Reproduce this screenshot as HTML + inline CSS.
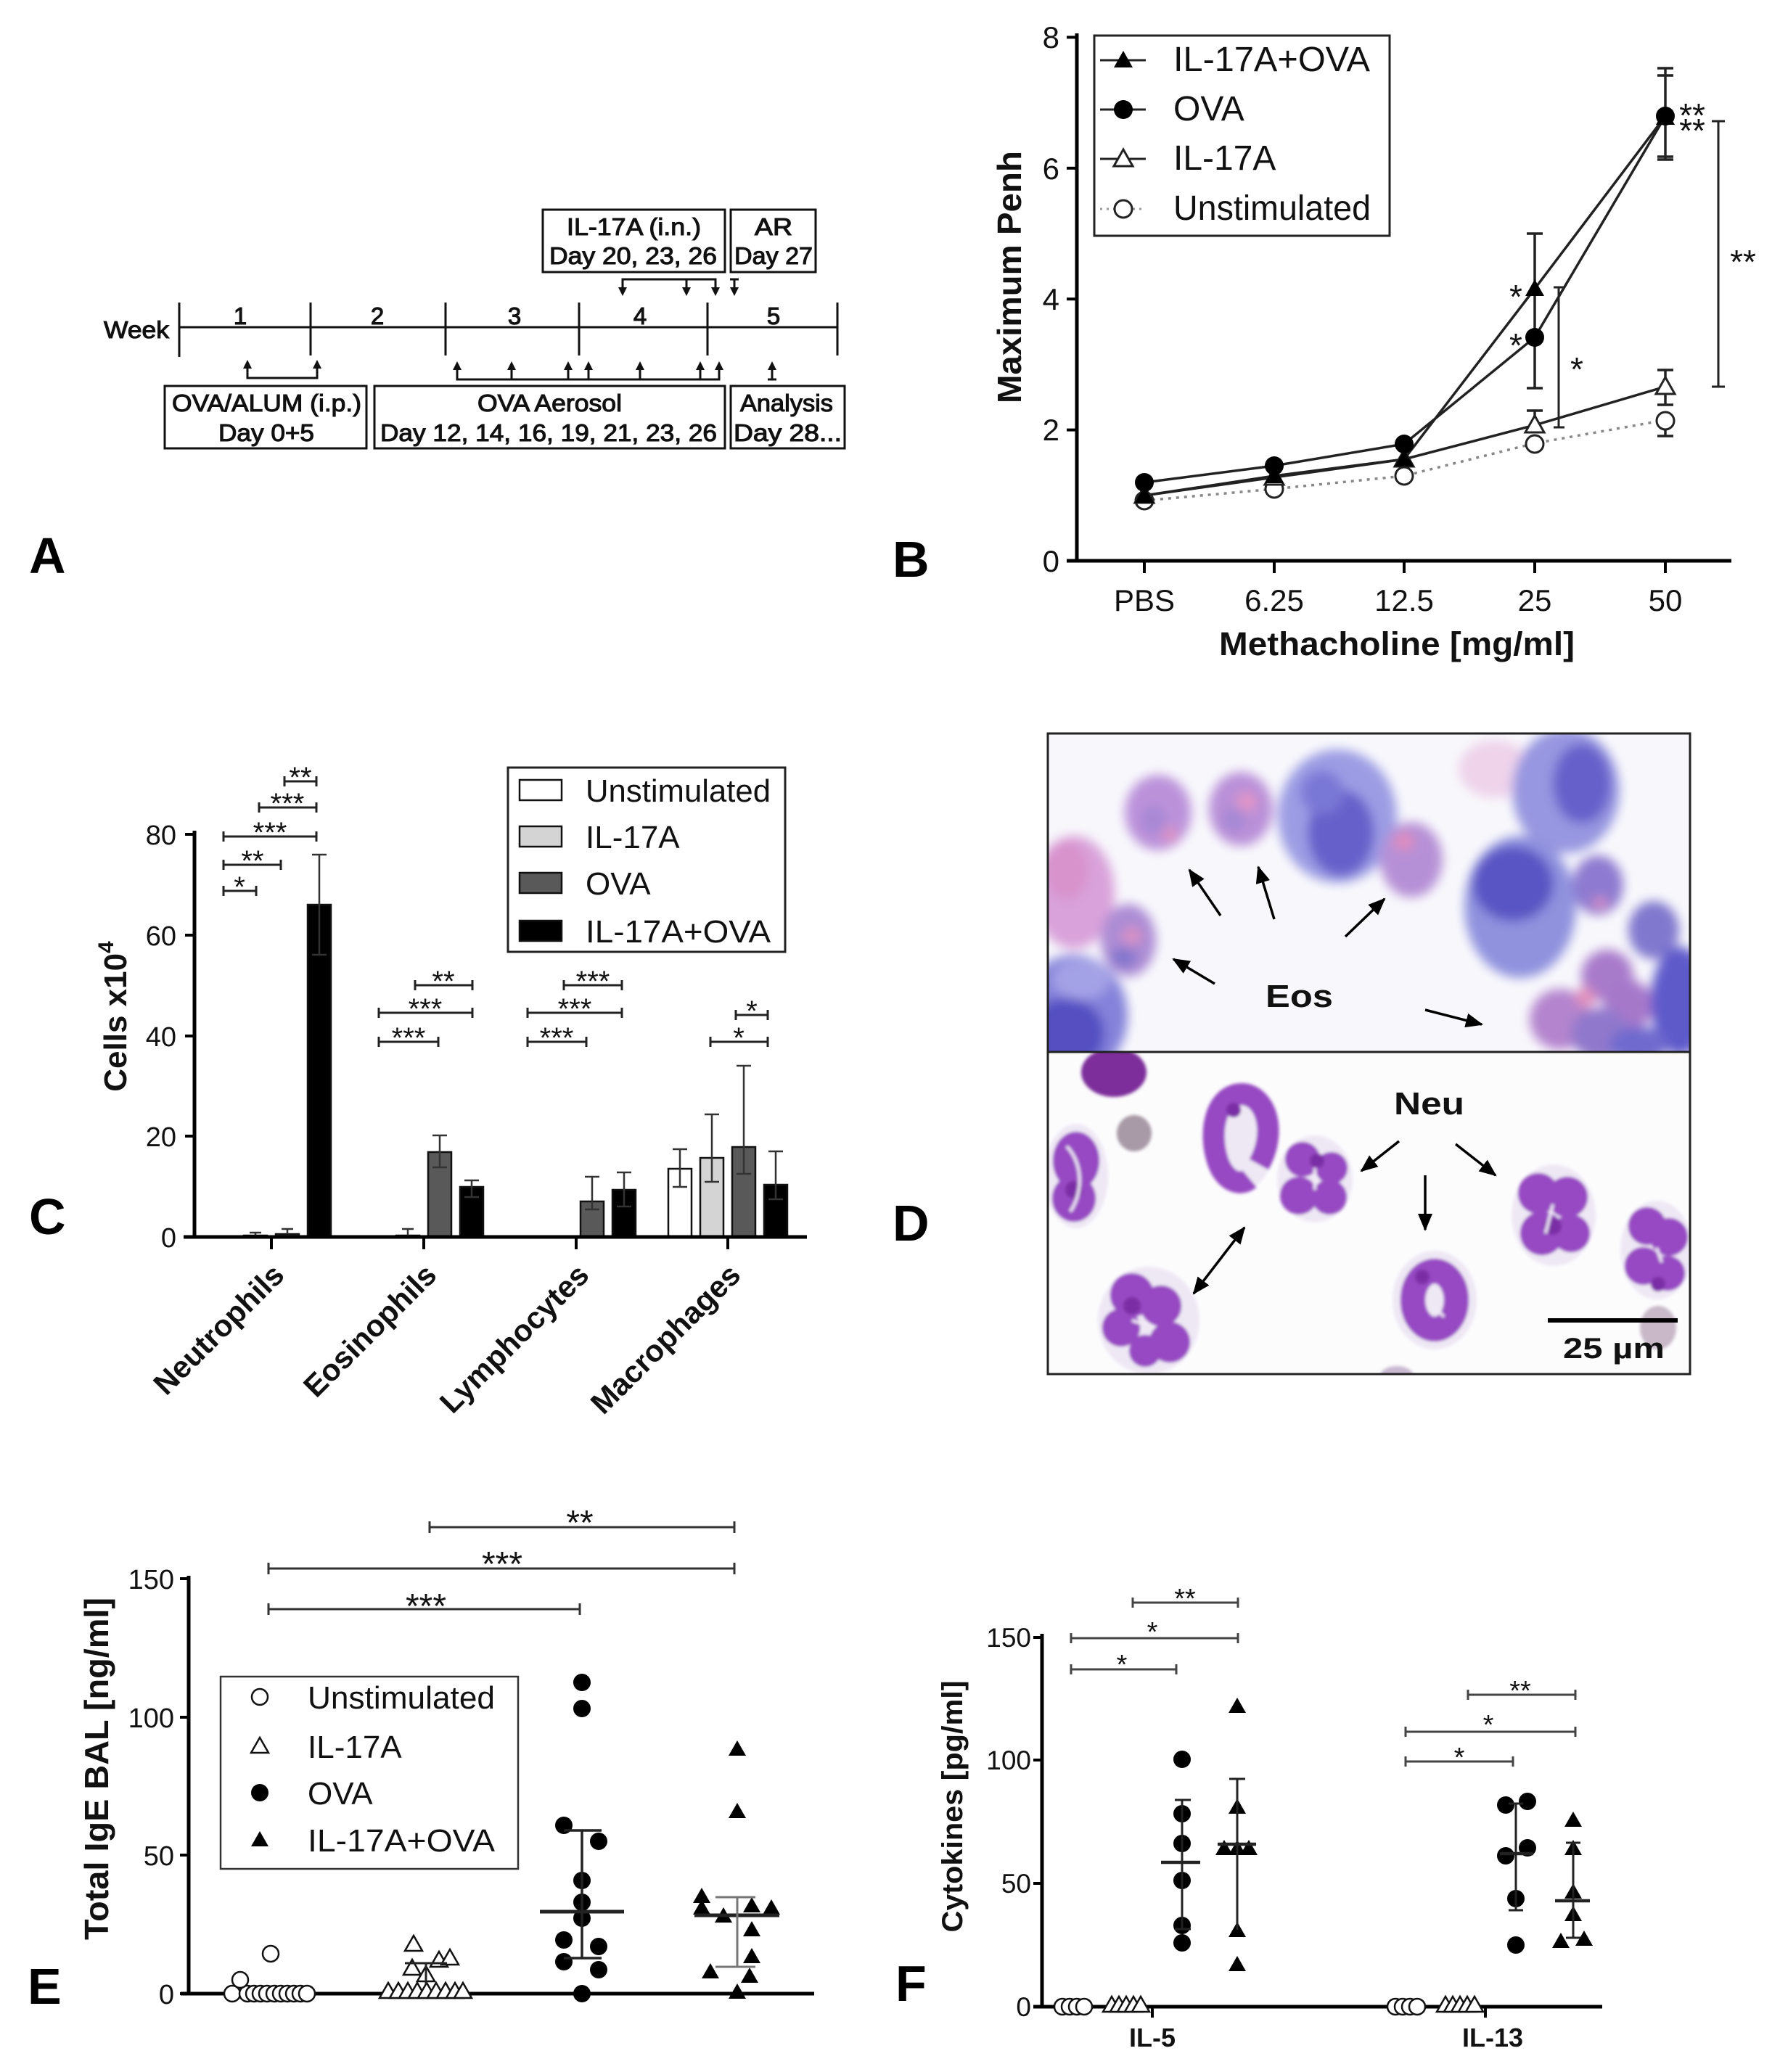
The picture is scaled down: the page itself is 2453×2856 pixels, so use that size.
<!DOCTYPE html>
<html>
<head>
<meta charset="utf-8">
<style>
html,body{margin:0;padding:0;background:#fff;}
svg{display:block;}
text{font-family:"Liberation Sans",Arial,sans-serif;fill:#111;}
.a{font-size:33px;stroke:#111;stroke-width:1.1px;}
.lab{font-size:70px;font-weight:bold;fill:#000;}
.b{font-weight:bold;}
</style>
</head>
<body>
<svg width="2453" height="2856" viewBox="0 0 2453 2856" xmlns="http://www.w3.org/2000/svg">
<defs>
<path id="tri" d="M0,-13 L13,10 L-13,10 Z"/>
<path id="trs" d="M0,-12 L12,9 L-12,9 Z"/>
<filter id="blr" filterUnits="userSpaceOnUse" x="1400" y="980" width="980" height="500"><feGaussianBlur stdDeviation="7.5"/></filter>
<filter id="blr2" filterUnits="userSpaceOnUse" x="1400" y="1420" width="980" height="500"><feGaussianBlur stdDeviation="2.2"/></filter>
<clipPath id="ctop"><rect x="1444" y="1011" width="885" height="439"/></clipPath>
<clipPath id="cbot"><rect x="1444" y="1450" width="885" height="444"/></clipPath>
<marker id="ah" markerUnits="userSpaceOnUse" markerWidth="24" markerHeight="20" refX="22" refY="10" orient="auto-start-reverse"><path d="M0,0 L24,10 L0,20 Z" fill="#000"/></marker>
</defs>
<rect x="0" y="0" width="2453" height="2856" fill="#fff"/>

<!-- ================= PANEL A ================= -->
<g stroke="#111" stroke-width="3" fill="none">
  <line x1="247" y1="451" x2="1154" y2="451"/>
  <line x1="247" y1="417" x2="247" y2="492"/>
  <line x1="428" y1="417" x2="428" y2="490"/>
  <line x1="614" y1="417" x2="614" y2="490"/>
  <line x1="798" y1="417" x2="798" y2="490"/>
  <line x1="975" y1="417" x2="975" y2="490"/>
  <line x1="1154" y1="417" x2="1154" y2="490"/>
  <rect x="748" y="289" width="251" height="86"/>
  <rect x="1007" y="289" width="117" height="86"/>
  <rect x="227" y="532" width="278" height="86"/>
  <rect x="516" y="532" width="483" height="86"/>
  <rect x="1007" y="532" width="157" height="86"/>
  <polyline points="858,398 858,385 986,385 986,398"/>
  <line x1="946" y1="385" x2="946" y2="398"/>
  <line x1="1006" y1="385" x2="1018" y2="385"/>
  <line x1="1012" y1="385" x2="1012" y2="398"/>
  <polyline points="341,506 341,521 437,521 437,506"/>
  <polyline points="630,508 630,523 991,523 991,508"/>
  <line x1="705" y1="523" x2="705" y2="508"/>
  <line x1="783" y1="523" x2="783" y2="508"/>
  <line x1="811" y1="523" x2="811" y2="508"/>
  <line x1="882" y1="523" x2="882" y2="508"/>
  <line x1="965" y1="523" x2="965" y2="508"/>
  <line x1="1064" y1="523" x2="1064" y2="508"/>
  <line x1="1058" y1="523" x2="1070" y2="523"/>
</g>
<g fill="#111">
  <path d="M852,396 L864,396 L858,408 Z"/>
  <path d="M940,396 L952,396 L946,408 Z"/>
  <path d="M980,396 L992,396 L986,408 Z"/>
  <path d="M1006,396 L1018,396 L1012,408 Z"/>
  <path d="M335,508 L347,508 L341,496 Z"/>
  <path d="M431,508 L443,508 L437,496 Z"/>
  <path d="M624,510 L636,510 L630,498 Z"/>
  <path d="M699,510 L711,510 L705,498 Z"/>
  <path d="M777,510 L789,510 L783,498 Z"/>
  <path d="M805,510 L817,510 L811,498 Z"/>
  <path d="M876,510 L888,510 L882,498 Z"/>
  <path d="M959,510 L971,510 L965,498 Z"/>
  <path d="M985,510 L997,510 L991,498 Z"/>
  <path d="M1058,510 L1070,510 L1064,498 Z"/>
</g>
<text class="a" x="143" y="466" textLength="90" lengthAdjust="spacingAndGlyphs">Week</text>
<text class="a" x="331" y="447" text-anchor="middle">1</text>
<text class="a" x="520" y="447" text-anchor="middle">2</text>
<text class="a" x="709" y="447" text-anchor="middle">3</text>
<text class="a" x="882" y="447" text-anchor="middle">4</text>
<text class="a" x="1066" y="447" text-anchor="middle">5</text>
<text class="a" x="781" y="324" textLength="185" lengthAdjust="spacingAndGlyphs">IL-17A (i.n.)</text>
<text class="a" x="757" y="364" textLength="231" lengthAdjust="spacingAndGlyphs">Day 20, 23, 26</text>
<text class="a" x="1040" y="324" textLength="52" lengthAdjust="spacingAndGlyphs">AR</text>
<text class="a" x="1012" y="364" textLength="108" lengthAdjust="spacingAndGlyphs">Day 27</text>
<text class="a" x="237" y="567" textLength="261" lengthAdjust="spacingAndGlyphs">OVA/ALUM (i.p.)</text>
<text class="a" x="301" y="608" textLength="132" lengthAdjust="spacingAndGlyphs">Day 0+5</text>
<text class="a" x="658" y="567" textLength="199" lengthAdjust="spacingAndGlyphs">OVA Aerosol</text>
<text class="a" x="524" y="608" textLength="464" lengthAdjust="spacingAndGlyphs">Day 12, 14, 16, 19, 21, 23, 26</text>
<text class="a" x="1020" y="567" textLength="128" lengthAdjust="spacingAndGlyphs">Analysis</text>
<text class="a" x="1011" y="608" textLength="149" lengthAdjust="spacingAndGlyphs">Day 28...</text>
<text class="lab" x="40" y="790">A</text>

<!-- ================= PANEL B ================= -->
<text class="lab" x="1230" y="795">B</text>
<g stroke="#000" stroke-width="5" fill="none">
  <line x1="1484" y1="46" x2="1484" y2="775"/>
  <line x1="1470" y1="773" x2="2386" y2="773"/>
</g>
<g stroke="#000" stroke-width="4">
  <line x1="1470" y1="773" x2="1484" y2="773"/>
  <line x1="1470" y1="592.6" x2="1484" y2="592.6"/>
  <line x1="1470" y1="412.2" x2="1484" y2="412.2"/>
  <line x1="1470" y1="231.8" x2="1484" y2="231.8"/>
  <line x1="1470" y1="51.4" x2="1484" y2="51.4"/>
  <line x1="1577" y1="773" x2="1577" y2="790"/>
  <line x1="1756" y1="773" x2="1756" y2="790"/>
  <line x1="1935" y1="773" x2="1935" y2="790"/>
  <line x1="2115" y1="773" x2="2115" y2="790"/>
  <line x1="2295" y1="773" x2="2295" y2="790"/>
</g>
<g font-size="42" text-anchor="end">
  <text x="1460" y="788">0</text>
  <text x="1460" y="607">2</text>
  <text x="1460" y="427">4</text>
  <text x="1460" y="247">6</text>
  <text x="1460" y="66">8</text>
</g>
<g font-size="42" text-anchor="middle">
  <text x="1577" y="842">PBS</text>
  <text x="1756" y="842">6.25</text>
  <text x="1935" y="842">12.5</text>
  <text x="2115" y="842">25</text>
  <text x="2295" y="842">50</text>
</g>
<text class="b" x="1925" y="903" font-size="45" text-anchor="middle" textLength="490" lengthAdjust="spacingAndGlyphs">Methacholine [mg/ml]</text>
<text class="b" font-size="46" text-anchor="middle" transform="translate(1407,382) rotate(-90)" textLength="348" lengthAdjust="spacingAndGlyphs">Maximum Penh</text>
<polyline points="1577,690 1756,674 1935,656 2115,611 2295,579" fill="none" stroke="#888" stroke-width="3.5" stroke-dasharray="4,7"/>
<polyline points="1577,683 1756,658 1935,633 2115,586 2295,533" fill="none" stroke="#222" stroke-width="3.5"/>
<polyline points="1577,665 1756,642 1935,612 2115,465 2295,160" fill="none" stroke="#222" stroke-width="3.5"/>
<polyline points="1577,683 1756,656 1935,633 2115,398 2295,160" fill="none" stroke="#222" stroke-width="3.5"/>
<g stroke="#222" stroke-width="3.5" fill="none">
  <line x1="2115" y1="322" x2="2115" y2="535"/>
  <line x1="2104" y1="322" x2="2126" y2="322"/>
  <line x1="2104" y1="535" x2="2126" y2="535"/>
  <line x1="2295" y1="94" x2="2295" y2="220"/>
  <line x1="2284" y1="94" x2="2306" y2="94"/>
  <line x1="2284" y1="104" x2="2306" y2="104"/>
  <line x1="2284" y1="216" x2="2306" y2="216"/>
  <line x1="2284" y1="220" x2="2306" y2="220"/>
  <line x1="2115" y1="566" x2="2115" y2="586"/>
  <line x1="2104" y1="566" x2="2126" y2="566"/>
  <line x1="2295" y1="510" x2="2295" y2="558"/>
  <line x1="2284" y1="510" x2="2306" y2="510"/>
  <line x1="2284" y1="558" x2="2306" y2="558"/>
  <line x1="2295" y1="580" x2="2295" y2="601"/>
  <line x1="2284" y1="601" x2="2306" y2="601"/>
</g>
<g fill="#fff" stroke="#222" stroke-width="3">
  <circle cx="1577" cy="690" r="12"/><circle cx="1756" cy="674" r="12"/><circle cx="1935" cy="656" r="12"/><circle cx="2115" cy="612" r="12"/><circle cx="2295" cy="580" r="12"/>
  <use href="#tri" x="1577" y="683"/><use href="#tri" x="1756" y="658"/><use href="#tri" x="1935" y="633"/><use href="#tri" x="2115" y="586"/><use href="#tri" x="2295" y="533"/>
</g>
<g fill="#000">
  <circle cx="1577" cy="665" r="13"/><circle cx="1756" cy="642" r="13"/><circle cx="1935" cy="612" r="13"/><circle cx="2115" cy="465" r="13"/><circle cx="2295" cy="160" r="13"/>
  <use href="#tri" x="1577" y="683"/><use href="#tri" x="1756" y="656"/><use href="#tri" x="1935" y="633"/><use href="#tri" x="2115" y="398"/><use href="#tri" x="2295" y="162"/>
</g>
<g stroke="#222" stroke-width="3" fill="none">
  <line x1="2148" y1="396" x2="2148" y2="589"/>
  <line x1="2141" y1="396" x2="2156" y2="396"/>
  <line x1="2141" y1="589" x2="2156" y2="589"/>
  <line x1="2368" y1="167" x2="2368" y2="533"/>
  <line x1="2359" y1="167" x2="2377" y2="167"/>
  <line x1="2359" y1="533" x2="2377" y2="533"/>
</g>
<g font-size="46" text-anchor="middle">
  <text x="2089" y="425">*</text>
  <text x="2089" y="492">*</text>
  <text x="2173" y="525">*</text>
  <text x="2332" y="175">**</text>
  <text x="2332" y="196">**</text>
  <text x="2402" y="377">**</text>
</g>
<rect x="1508" y="49" width="407" height="276" fill="#fff" stroke="#222" stroke-width="3"/>
<g stroke="#222" stroke-width="3">
  <line x1="1516" y1="83" x2="1579" y2="83"/>
  <line x1="1516" y1="151" x2="1579" y2="151"/>
  <line x1="1516" y1="219" x2="1579" y2="219"/>
  <line x1="1516" y1="288" x2="1579" y2="288" stroke="#999" stroke-dasharray="3,6"/>
</g>
<use href="#tri" x="1548" y="83" fill="#000"/>
<circle cx="1548" cy="151" r="13" fill="#000"/>
<use href="#tri" x="1548" y="219" fill="#fff" stroke="#222" stroke-width="3"/>
<circle cx="1548" cy="288" r="12" fill="#fff" stroke="#222" stroke-width="3"/>
<g font-size="48">
  <text x="1617" y="98" textLength="271" lengthAdjust="spacingAndGlyphs">IL-17A+OVA</text>
  <text x="1617" y="166">OVA</text>
  <text x="1617" y="234">IL-17A</text>
  <text x="1617" y="303" textLength="272" lengthAdjust="spacingAndGlyphs">Unstimulated</text>
</g>

<!-- ================= PANEL C ================= -->
<text class="lab" x="40" y="1701">C</text>
<g stroke="#111" stroke-width="2.5">
  <rect x="292" y="1704" width="32" height="1" fill="#fff"/>
  <rect x="336" y="1703" width="32" height="2" fill="#d4d4d4"/>
  <rect x="380" y="1701" width="32" height="4" fill="#595959"/>
  <rect x="424" y="1247" width="32" height="458" fill="#000"/>
  <rect x="502" y="1704" width="32" height="1" fill="#fff"/>
  <rect x="546" y="1703" width="32" height="2" fill="#d4d4d4"/>
  <rect x="590" y="1588" width="32" height="117" fill="#595959"/>
  <rect x="634" y="1636" width="32" height="69" fill="#000"/>
  <rect x="712" y="1704" width="32" height="1" fill="#fff"/>
  <rect x="756" y="1704" width="32" height="1" fill="#d4d4d4"/>
  <rect x="800" y="1656" width="32" height="49" fill="#595959"/>
  <rect x="844" y="1640" width="32" height="65" fill="#000"/>
  <rect x="921" y="1611" width="32" height="94" fill="#fff"/>
  <rect x="965" y="1596" width="32" height="109" fill="#d4d4d4"/>
  <rect x="1009" y="1581" width="32" height="124" fill="#595959"/>
  <rect x="1053" y="1633" width="32" height="72" fill="#000"/>
</g>
<g stroke="#333" stroke-width="2.5" fill="none">
  <line x1="352" y1="1699" x2="352" y2="1703"/><line x1="344" y1="1699" x2="360" y2="1699"/>
  <line x1="396" y1="1694" x2="396" y2="1701"/><line x1="388" y1="1694" x2="404" y2="1694"/>
  <line x1="440" y1="1178" x2="440" y2="1316"/><line x1="430" y1="1178" x2="450" y2="1178"/><line x1="430" y1="1316" x2="450" y2="1316"/>
  <line x1="562" y1="1694" x2="562" y2="1703"/><line x1="554" y1="1694" x2="570" y2="1694"/>
  <line x1="606" y1="1565" x2="606" y2="1609"/><line x1="596" y1="1565" x2="616" y2="1565"/><line x1="596" y1="1609" x2="616" y2="1609"/>
  <line x1="650" y1="1627" x2="650" y2="1650"/><line x1="640" y1="1627" x2="660" y2="1627"/><line x1="640" y1="1650" x2="660" y2="1650"/>
  <line x1="816" y1="1622" x2="816" y2="1667"/><line x1="806" y1="1622" x2="826" y2="1622"/><line x1="806" y1="1667" x2="826" y2="1667"/>
  <line x1="860" y1="1616" x2="860" y2="1663"/><line x1="850" y1="1616" x2="870" y2="1616"/><line x1="850" y1="1663" x2="870" y2="1663"/>
  <line x1="937" y1="1584" x2="937" y2="1636"/><line x1="927" y1="1584" x2="947" y2="1584"/><line x1="927" y1="1636" x2="947" y2="1636"/>
  <line x1="981" y1="1536" x2="981" y2="1629"/><line x1="971" y1="1536" x2="991" y2="1536"/><line x1="971" y1="1629" x2="991" y2="1629"/>
  <line x1="1025" y1="1469" x2="1025" y2="1618"/><line x1="1015" y1="1469" x2="1035" y2="1469"/><line x1="1015" y1="1618" x2="1035" y2="1618"/>
  <line x1="1069" y1="1587" x2="1069" y2="1653"/><line x1="1059" y1="1587" x2="1079" y2="1587"/><line x1="1059" y1="1653" x2="1079" y2="1653"/>
</g>
<g stroke="#000" stroke-width="5" fill="none">
  <line x1="268" y1="1145" x2="268" y2="1707"/>
  <line x1="253" y1="1705" x2="1112" y2="1705"/>
</g>
<g stroke="#000" stroke-width="4">
  <line x1="255" y1="1705" x2="268" y2="1705"/>
  <line x1="255" y1="1566" x2="268" y2="1566"/>
  <line x1="255" y1="1428" x2="268" y2="1428"/>
  <line x1="255" y1="1289" x2="268" y2="1289"/>
  <line x1="255" y1="1150" x2="268" y2="1150"/>
  <line x1="374" y1="1705" x2="374" y2="1722"/>
  <line x1="584" y1="1705" x2="584" y2="1722"/>
  <line x1="794" y1="1705" x2="794" y2="1722"/>
  <line x1="1003" y1="1705" x2="1003" y2="1722"/>
</g>
<g font-size="38" text-anchor="end">
  <text x="243" y="1719">0</text>
  <text x="243" y="1580">20</text>
  <text x="243" y="1442">40</text>
  <text x="243" y="1303">60</text>
  <text x="243" y="1164">80</text>
</g>
<text class="b" font-size="44" text-anchor="middle" transform="translate(174,1401) rotate(-90)">Cells x10<tspan font-size="30" dy="-18">4</tspan></text>
<g class="b" font-size="42" text-anchor="end">
  <text transform="translate(394,1760) rotate(-45)">Neutrophils</text>
  <text transform="translate(604,1760) rotate(-45)">Eosinophils</text>
  <text transform="translate(814,1760) rotate(-45)">Lymphocytes</text>
  <text transform="translate(1023,1760) rotate(-45)">Macrophages</text>
</g>
<g stroke="#222" stroke-width="3" fill="none">
  <line x1="308" y1="1228" x2="353" y2="1228"/><line x1="308" y1="1221" x2="308" y2="1235"/><line x1="353" y1="1221" x2="353" y2="1235"/>
  <line x1="308" y1="1192" x2="387" y2="1192"/><line x1="308" y1="1185" x2="308" y2="1199"/><line x1="387" y1="1185" x2="387" y2="1199"/>
  <line x1="308" y1="1153" x2="436" y2="1153"/><line x1="308" y1="1146" x2="308" y2="1160"/><line x1="436" y1="1146" x2="436" y2="1160"/>
  <line x1="357" y1="1113" x2="436" y2="1113"/><line x1="357" y1="1106" x2="357" y2="1120"/><line x1="436" y1="1106" x2="436" y2="1120"/>
  <line x1="392" y1="1077" x2="436" y2="1077"/><line x1="392" y1="1070" x2="392" y2="1084"/><line x1="436" y1="1070" x2="436" y2="1084"/>
  <line x1="572" y1="1358" x2="651" y2="1358"/><line x1="572" y1="1351" x2="572" y2="1365"/><line x1="651" y1="1351" x2="651" y2="1365"/>
  <line x1="522" y1="1396" x2="651" y2="1396"/><line x1="522" y1="1389" x2="522" y2="1403"/><line x1="651" y1="1389" x2="651" y2="1403"/>
  <line x1="522" y1="1436" x2="604" y2="1436"/><line x1="522" y1="1429" x2="522" y2="1443"/><line x1="604" y1="1429" x2="604" y2="1443"/>
  <line x1="777" y1="1358" x2="857" y2="1358"/><line x1="777" y1="1351" x2="777" y2="1365"/><line x1="857" y1="1351" x2="857" y2="1365"/>
  <line x1="727" y1="1396" x2="857" y2="1396"/><line x1="727" y1="1389" x2="727" y2="1403"/><line x1="857" y1="1389" x2="857" y2="1403"/>
  <line x1="727" y1="1436" x2="808" y2="1436"/><line x1="727" y1="1429" x2="727" y2="1443"/><line x1="808" y1="1429" x2="808" y2="1443"/>
  <line x1="1014" y1="1399" x2="1058" y2="1399"/><line x1="1014" y1="1392" x2="1014" y2="1406"/><line x1="1058" y1="1392" x2="1058" y2="1406"/>
  <line x1="979" y1="1436" x2="1058" y2="1436"/><line x1="979" y1="1429" x2="979" y2="1443"/><line x1="1058" y1="1429" x2="1058" y2="1443"/>
</g>
<g font-size="40" text-anchor="middle">
  <text x="330" y="1236">*</text>
  <text x="348" y="1200">**</text>
  <text x="372" y="1161">***</text>
  <text x="396" y="1121">***</text>
  <text x="414" y="1085">**</text>
  <text x="611" y="1366">**</text>
  <text x="586" y="1404">***</text>
  <text x="563" y="1444">***</text>
  <text x="817" y="1366">***</text>
  <text x="792" y="1404">***</text>
  <text x="767" y="1444">***</text>
  <text x="1036" y="1407">*</text>
  <text x="1018" y="1444">*</text>
</g>
<rect x="700" y="1058" width="382" height="254" fill="#fff" stroke="#222" stroke-width="3"/>
<g stroke="#111" stroke-width="2.5">
  <rect x="716" y="1075" width="58" height="28" fill="#fff"/>
  <rect x="716" y="1139" width="58" height="28" fill="#d4d4d4"/>
  <rect x="716" y="1203" width="58" height="28" fill="#595959"/>
  <rect x="716" y="1269" width="58" height="28" fill="#000"/>
</g>
<g font-size="44">
  <text x="807" y="1105" textLength="255" lengthAdjust="spacingAndGlyphs">Unstimulated</text>
  <text x="807" y="1169">IL-17A</text>
  <text x="807" y="1233">OVA</text>
  <text x="807" y="1299" textLength="255" lengthAdjust="spacingAndGlyphs">IL-17A+OVA</text>
</g>

<!-- ================= PANEL D ================= -->
<text class="lab" x="1230" y="1710">D</text>
<g clip-path="url(#ctop)">
  <rect x="1444" y="1011" width="885" height="439" fill="#f8f8fc"/>
  <g filter="url(#blr)">
    <ellipse cx="2060" cy="1060" rx="50" ry="40" fill="#eed3ea"/>
    <ellipse cx="1480" cy="1230" rx="56" ry="78" fill="#d9a2da"/>
    <ellipse cx="1470" cy="1200" rx="30" ry="40" fill="#d892cc"/>
    <ellipse cx="1596" cy="1120" rx="46" ry="52" fill="#bb92da"/>
    <ellipse cx="1590" cy="1130" rx="18" ry="20" fill="#a888d4"/>
    <ellipse cx="1612" cy="1150" rx="10" ry="10" fill="#e092c0"/>
    <ellipse cx="1710" cy="1115" rx="44" ry="51" fill="#b990d8"/>
    <ellipse cx="1718" cy="1105" rx="14" ry="14" fill="#e094c6"/>
    <ellipse cx="1700" cy="1130" rx="16" ry="16" fill="#a488d4"/>
    <ellipse cx="1843" cy="1125" rx="82" ry="92" fill="#9c9ce4"/>
    <ellipse cx="1848" cy="1148" rx="46" ry="60" fill="#6660ca"/>
    <ellipse cx="1822" cy="1092" rx="30" ry="30" fill="#7a78d6"/>
    <ellipse cx="1945" cy="1185" rx="43" ry="52" fill="#b690d6"/>
    <ellipse cx="1935" cy="1160" rx="14" ry="12" fill="#e08cbc"/>
    <ellipse cx="1555" cy="1296" rx="38" ry="50" fill="#ac8cd4"/>
    <ellipse cx="1560" cy="1290" rx="14" ry="12" fill="#d890c4"/>
    <ellipse cx="1548" cy="1320" rx="18" ry="14" fill="#8476cc"/>
    <ellipse cx="1480" cy="1400" rx="74" ry="84" fill="#8482da"/>
    <ellipse cx="1470" cy="1425" rx="52" ry="50" fill="#5450c2"/>
    <ellipse cx="1490" cy="1350" rx="40" ry="28" fill="#a4a2e6"/>
    <ellipse cx="2158" cy="1090" rx="74" ry="86" fill="#9796e0"/>
    <ellipse cx="2180" cy="1080" rx="40" ry="55" fill="#6660ca"/>
    <ellipse cx="2095" cy="1250" rx="77" ry="98" fill="#9092de"/>
    <ellipse cx="2085" cy="1218" rx="56" ry="52" fill="#5a54c4"/>
    <ellipse cx="2202" cy="1220" rx="35" ry="41" fill="#8e7ad0"/>
    <ellipse cx="2205" cy="1245" rx="10" ry="8" fill="#d890c4"/>
    <ellipse cx="2279" cy="1282" rx="35" ry="40" fill="#8078ce"/>
    <ellipse cx="2150" cy="1405" rx="42" ry="42" fill="#b484ce"/>
    <ellipse cx="2215" cy="1345" rx="36" ry="36" fill="#a87aca"/>
    <ellipse cx="2245" cy="1385" rx="34" ry="34" fill="#a678ca"/>
    <ellipse cx="2205" cy="1425" rx="40" ry="36" fill="#9078cc"/>
    <ellipse cx="2185" cy="1375" rx="14" ry="14" fill="#e090bc"/>
    <ellipse cx="2315" cy="1380" rx="40" ry="75" fill="#5e5aca"/>
    <ellipse cx="2258" cy="1440" rx="40" ry="25" fill="#706ace"/>
  </g>
</g>
<g clip-path="url(#cbot)">
  <rect x="1444" y="1450" width="885" height="444" fill="#fcfcfd"/>
  <g filter="url(#blr2)">
    <g fill="#e4dbef" opacity="0.6">
      <ellipse cx="1483" cy="1621" rx="44" ry="72"/>
      <ellipse cx="1710" cy="1571" rx="48" ry="70"/>
      <ellipse cx="1812" cy="1625" rx="52" ry="60"/>
      <ellipse cx="1583" cy="1820" rx="70" ry="74"/>
      <ellipse cx="1977" cy="1792" rx="58" ry="68"/>
      <ellipse cx="2141" cy="1675" rx="58" ry="70"/>
      <ellipse cx="2283" cy="1723" rx="50" ry="68"/>
    </g>
    <ellipse cx="1535" cy="1478" rx="45" ry="34" fill="#7d2e9a"/>
    <ellipse cx="1563" cy="1562" rx="24" ry="25" fill="#a89aa6"/>
    <ellipse cx="2285" cy="1830" rx="25" ry="30" fill="#c8b8c8"/>
    <ellipse cx="1925" cy="1895" rx="22" ry="12" fill="#c8b8d0"/>
    <g fill="#9648c2">
      <ellipse cx="1483" cy="1600" rx="32" ry="40"/>
      <ellipse cx="1480" cy="1652" rx="30" ry="32"/>
      <path d="M1735,1605 C1760,1560 1745,1510 1712,1508 C1675,1508 1665,1560 1678,1600 C1688,1630 1710,1635 1722,1625" fill="none" stroke="#9648c2" stroke-width="30"/>
      <circle cx="1795" cy="1598" r="24"/><circle cx="1835" cy="1610" r="22"/><circle cx="1790" cy="1648" r="26"/><circle cx="1832" cy="1650" r="24"/>
      <circle cx="1560" cy="1785" r="30"/><circle cx="1545" cy="1830" r="26"/><circle cx="1600" cy="1800" r="28"/><circle cx="1612" cy="1850" r="28"/><circle cx="1578" cy="1862" r="22"/>
      <ellipse cx="1977" cy="1792" rx="30" ry="40" fill="none" stroke="#9648c2" stroke-width="34"/>
      <circle cx="2120" cy="1645" r="28"/><circle cx="2160" cy="1650" r="28"/><circle cx="2125" cy="1700" r="30"/><circle cx="2165" cy="1700" r="26"/>
      <circle cx="2270" cy="1690" r="26"/><circle cx="2300" cy="1705" r="26"/><circle cx="2265" cy="1745" r="26"/><circle cx="2298" cy="1755" r="24"/>
    </g>
    <g fill="#7a2fa6">
      <circle cx="1480" cy="1640" r="12"/><circle cx="1815" cy="1600" r="10"/><circle cx="1560" cy="1800" r="12"/><circle cx="2140" cy="1690" r="12"/><circle cx="2285" cy="1770" r="10"/><circle cx="1700" cy="1530" r="10"/><circle cx="1960" cy="1760" r="10"/>
    </g>
    <g fill="none" stroke="#f2eaf6" stroke-width="4">
      <path d="M1470,1580 C1490,1600 1495,1640 1475,1670"/>
      <path d="M1812,1610 L1812,1640"/>
      <path d="M1975,1800 L1990,1815"/>
      <path d="M2140,1660 L2130,1700"/>
      <path d="M2283,1720 L2290,1740"/>
      <path d="M1560,1820 L1590,1830"/>
    </g>
  </g>
</g>
<rect x="1444" y="1011" width="885" height="883" fill="none" stroke="#222" stroke-width="3"/>
<line x1="1444" y1="1450" x2="2329" y2="1450" stroke="#222" stroke-width="3"/>
<g stroke="#000" stroke-width="3.5" fill="none" marker-end="url(#ah)">
  <line x1="1682" y1="1262" x2="1639" y2="1199"/>
  <line x1="1756" y1="1267" x2="1734" y2="1195"/>
  <line x1="1854" y1="1291" x2="1908" y2="1239"/>
  <line x1="1674" y1="1356" x2="1617" y2="1322"/>
  <line x1="1964" y1="1392" x2="2042" y2="1412"/>
  <line x1="1928" y1="1573" x2="1876" y2="1614"/>
  <line x1="2006" y1="1577" x2="2061" y2="1620"/>
  <line x1="1964" y1="1620" x2="1964" y2="1695"/>
  <line x1="1715" y1="1692" x2="1645" y2="1783" marker-start="url(#ah)"/>
</g>
<text class="b" x="1744" y="1388" font-size="44" textLength="93" lengthAdjust="spacingAndGlyphs">Eos</text>
<text class="b" x="1921" y="1536" font-size="44" textLength="97" lengthAdjust="spacingAndGlyphs">Neu</text>
<line x1="2133" y1="1820" x2="2312" y2="1820" stroke="#000" stroke-width="6"/>
<text class="b" x="2154" y="1872" font-size="40" textLength="140" lengthAdjust="spacingAndGlyphs">25 µm</text>

<!-- ================= PANEL E ================= -->
<text class="lab" x="38" y="2762">E</text>
<g stroke="#000" stroke-width="5" fill="none">
  <line x1="260" y1="2172" x2="260" y2="2750"/>
  <line x1="249" y1="2748" x2="1122" y2="2748"/>
</g>
<g stroke="#000" stroke-width="4">
  <line x1="248" y1="2748" x2="260" y2="2748"/>
  <line x1="248" y1="2557" x2="260" y2="2557"/>
  <line x1="248" y1="2367" x2="260" y2="2367"/>
  <line x1="248" y1="2176" x2="260" y2="2176"/>
</g>
<g font-size="38" text-anchor="end">
  <text x="240" y="2762">0</text>
  <text x="240" y="2571">50</text>
  <text x="240" y="2381">100</text>
  <text x="240" y="2190">150</text>
</g>
<text class="b" font-size="46" text-anchor="middle" transform="translate(149,2438) rotate(-90)" textLength="472" lengthAdjust="spacingAndGlyphs">Total IgE BAL [ng/ml]</text>
<g fill="#fff" stroke="#111" stroke-width="2.5">
  <circle cx="320" cy="2748" r="11"/><circle cx="341" cy="2748" r="11"/><circle cx="350" cy="2748" r="11"/><circle cx="359" cy="2748" r="11"/><circle cx="368" cy="2748" r="11"/><circle cx="378" cy="2748" r="11"/><circle cx="387" cy="2748" r="11"/><circle cx="396" cy="2748" r="11"/><circle cx="405" cy="2748" r="11"/><circle cx="414" cy="2748" r="11"/><circle cx="423" cy="2748" r="11"/>
  <circle cx="331" cy="2729" r="11"/><circle cx="373" cy="2693" r="11"/>
  <use href="#trs" x="535" y="2745"/><use href="#trs" x="549" y="2745"/><use href="#trs" x="562" y="2745"/><use href="#trs" x="575" y="2745"/><use href="#trs" x="588" y="2745"/><use href="#trs" x="601" y="2745"/><use href="#trs" x="614" y="2745"/><use href="#trs" x="627" y="2745"/><use href="#trs" x="638" y="2745"/>
  <use href="#trs" x="570" y="2680"/><use href="#trs" x="568" y="2713"/><use href="#trs" x="587" y="2722"/><use href="#trs" x="605" y="2702"/><use href="#trs" x="620" y="2699"/>
</g>
<g stroke="#222" stroke-width="3" fill="none">
  <line x1="558" y1="2706" x2="616" y2="2706"/>
  <line x1="587" y1="2706" x2="587" y2="2735"/>
</g>
<g fill="#000">
  <circle cx="802" cy="2319" r="12"/><circle cx="802" cy="2355" r="12"/><circle cx="777" cy="2516" r="12"/><circle cx="825" cy="2538" r="12"/><circle cx="802" cy="2592" r="12"/><circle cx="802" cy="2622" r="12"/><circle cx="802" cy="2644" r="12"/><circle cx="777" cy="2674" r="12"/><circle cx="825" cy="2683" r="12"/><circle cx="777" cy="2704" r="12"/><circle cx="825" cy="2715" r="12"/><circle cx="802" cy="2748" r="12"/>
  <use href="#trs" x="1016" y="2411"/><use href="#trs" x="1016" y="2497"/><use href="#trs" x="967" y="2614"/><use href="#trs" x="967" y="2630"/><use href="#trs" x="997" y="2641"/><use href="#trs" x="1036" y="2627"/><use href="#trs" x="1063" y="2630"/><use href="#trs" x="1036" y="2660"/><use href="#trs" x="1036" y="2697"/><use href="#trs" x="979" y="2718"/><use href="#trs" x="1033" y="2724"/><use href="#trs" x="1016" y="2746"/>
</g>
<g stroke="#222" stroke-width="3.5" fill="none">
  <line x1="744" y1="2635" x2="860" y2="2635" stroke-width="5"/>
  <line x1="802" y1="2523" x2="802" y2="2699"/>
  <line x1="777" y1="2523" x2="829" y2="2523"/>
  <line x1="777" y1="2699" x2="829" y2="2699"/>
  <line x1="957" y1="2640" x2="1074" y2="2640" stroke-width="5"/>
</g>
<g stroke="#777" stroke-width="3" fill="none">
  <line x1="1016" y1="2615" x2="1016" y2="2711"/>
  <line x1="986" y1="2615" x2="1041" y2="2615"/>
  <line x1="986" y1="2711" x2="1041" y2="2711"/>
</g>
<g stroke="#333" stroke-width="3" fill="none">
  <line x1="592" y1="2105" x2="1012" y2="2105"/><line x1="592" y1="2097" x2="592" y2="2113"/><line x1="1012" y1="2097" x2="1012" y2="2113"/>
  <line x1="370" y1="2162" x2="1012" y2="2162"/><line x1="370" y1="2154" x2="370" y2="2170"/><line x1="1012" y1="2154" x2="1012" y2="2170"/>
  <line x1="370" y1="2218" x2="799" y2="2218"/><line x1="370" y1="2210" x2="370" y2="2226"/><line x1="799" y1="2210" x2="799" y2="2226"/>
</g>
<g font-size="48" text-anchor="middle">
  <text x="799" y="2115">**</text>
  <text x="692" y="2172">***</text>
  <text x="587" y="2230">***</text>
</g>
<rect x="304" y="2311" width="410" height="265" fill="#fff" stroke="#333" stroke-width="2.5"/>
<circle cx="358" cy="2339" r="11" fill="#fff" stroke="#111" stroke-width="2.5"/>
<use href="#trs" x="358" y="2407" fill="#fff" stroke="#111" stroke-width="2.5"/>
<circle cx="358" cy="2471" r="12" fill="#000"/>
<use href="#trs" x="358" y="2536" fill="#000"/>
<g font-size="44">
  <text x="424" y="2355" textLength="258" lengthAdjust="spacingAndGlyphs">Unstimulated</text>
  <text x="424" y="2423">IL-17A</text>
  <text x="424" y="2487">OVA</text>
  <text x="424" y="2552" textLength="258" lengthAdjust="spacingAndGlyphs">IL-17A+OVA</text>
</g>

<!-- ================= PANEL F ================= -->
<text class="lab" x="1234" y="2758">F</text>
<g stroke="#000" stroke-width="5" fill="none">
  <line x1="1436" y1="2252" x2="1436" y2="2768"/>
  <line x1="1424" y1="2766" x2="2208" y2="2766"/>
</g>
<g stroke="#000" stroke-width="4">
  <line x1="1424" y1="2766" x2="1436" y2="2766"/>
  <line x1="1424" y1="2596" x2="1436" y2="2596"/>
  <line x1="1424" y1="2426" x2="1436" y2="2426"/>
  <line x1="1424" y1="2257" x2="1436" y2="2257"/>
  <line x1="1588" y1="2766" x2="1588" y2="2781"/>
  <line x1="2047" y1="2766" x2="2047" y2="2781"/>
</g>
<g font-size="37" text-anchor="end">
  <text x="1421" y="2779">0</text>
  <text x="1421" y="2609">50</text>
  <text x="1421" y="2439">100</text>
  <text x="1421" y="2270">150</text>
</g>
<g class="b" font-size="36" text-anchor="middle">
  <text x="1588" y="2821">IL-5</text>
  <text x="2057" y="2821">IL-13</text>
</g>
<text class="b" font-size="40" text-anchor="middle" transform="translate(1326,2490) rotate(-90)" textLength="347" lengthAdjust="spacingAndGlyphs">Cytokines [pg/ml]</text>
<g fill="#fff" stroke="#111" stroke-width="2.5">
  <circle cx="1464" cy="2766" r="11"/><circle cx="1474" cy="2766" r="11"/><circle cx="1484" cy="2766" r="11"/><circle cx="1494" cy="2766" r="11"/>
  <use href="#trs" x="1532" y="2764"/><use href="#trs" x="1542" y="2764"/><use href="#trs" x="1552" y="2764"/><use href="#trs" x="1562" y="2764"/><use href="#trs" x="1572" y="2764"/>
  <circle cx="1923" cy="2766" r="11"/><circle cx="1933" cy="2766" r="11"/><circle cx="1943" cy="2766" r="11"/><circle cx="1953" cy="2766" r="11"/>
  <use href="#trs" x="1992" y="2764"/><use href="#trs" x="2002" y="2764"/><use href="#trs" x="2012" y="2764"/><use href="#trs" x="2022" y="2764"/><use href="#trs" x="2032" y="2764"/>
</g>
<g fill="#000">
  <circle cx="1629" cy="2425" r="12"/><circle cx="1629" cy="2500" r="12"/><circle cx="1629" cy="2541" r="12"/><circle cx="1629" cy="2592" r="12"/><circle cx="1629" cy="2654" r="12"/><circle cx="1629" cy="2678" r="12"/>
  <use href="#trs" x="1705" y="2352"/><use href="#trs" x="1705" y="2491"/><use href="#trs" x="1687" y="2548"/><use href="#trs" x="1705" y="2548"/><use href="#trs" x="1721" y="2548"/><use href="#trs" x="1705" y="2661"/><use href="#trs" x="1705" y="2708"/>
  <circle cx="2075" cy="2488" r="12"/><circle cx="2105" cy="2483" r="12"/><circle cx="2075" cy="2558" r="12"/><circle cx="2105" cy="2547" r="12"/><circle cx="2089" cy="2617" r="12"/><circle cx="2089" cy="2681" r="12"/>
  <use href="#trs" x="2168" y="2509"/><use href="#trs" x="2168" y="2548"/><use href="#trs" x="2168" y="2608"/><use href="#trs" x="2168" y="2639"/><use href="#trs" x="2151" y="2676"/><use href="#trs" x="2183" y="2673"/>
</g>
<g stroke="#222" stroke-width="3" fill="none">
  <line x1="1600" y1="2567" x2="1654" y2="2567" stroke-width="4.5"/>
  <line x1="1629" y1="2481" x2="1629" y2="2659"/><line x1="1619" y1="2481" x2="1641" y2="2481"/><line x1="1619" y1="2659" x2="1641" y2="2659"/>
  <line x1="1678" y1="2542" x2="1731" y2="2542" stroke-width="4.5"/>
  <line x1="1705" y1="2452" x2="1705" y2="2660"/><line x1="1694" y1="2452" x2="1716" y2="2452"/>
  <line x1="2067" y1="2555" x2="2113" y2="2555" stroke-width="4.5"/>
  <line x1="2089" y1="2486" x2="2089" y2="2633"/><line x1="2079" y1="2486" x2="2099" y2="2486"/><line x1="2079" y1="2633" x2="2099" y2="2633"/>
  <line x1="2143" y1="2620" x2="2191" y2="2620" stroke-width="4.5"/>
  <line x1="2168" y1="2540" x2="2168" y2="2671"/><line x1="2158" y1="2540" x2="2178" y2="2540"/><line x1="2158" y1="2671" x2="2178" y2="2671"/>
</g>
<g stroke="#444" stroke-width="3" fill="none">
  <line x1="1561" y1="2209" x2="1706" y2="2209"/><line x1="1561" y1="2202" x2="1561" y2="2216"/><line x1="1706" y1="2202" x2="1706" y2="2216"/>
  <line x1="1476" y1="2258" x2="1706" y2="2258"/><line x1="1476" y1="2251" x2="1476" y2="2265"/><line x1="1706" y1="2251" x2="1706" y2="2265"/>
  <line x1="1476" y1="2301" x2="1621" y2="2301"/><line x1="1476" y1="2294" x2="1476" y2="2308"/><line x1="1621" y1="2294" x2="1621" y2="2308"/>
  <line x1="2023" y1="2336" x2="2171" y2="2336"/><line x1="2023" y1="2329" x2="2023" y2="2343"/><line x1="2171" y1="2329" x2="2171" y2="2343"/>
  <line x1="1937" y1="2387" x2="2171" y2="2387"/><line x1="1937" y1="2380" x2="1937" y2="2394"/><line x1="2171" y1="2380" x2="2171" y2="2394"/>
  <line x1="1937" y1="2428" x2="2085" y2="2428"/><line x1="1937" y1="2421" x2="1937" y2="2435"/><line x1="2085" y1="2421" x2="2085" y2="2435"/>
</g>
<g font-size="38" text-anchor="middle">
  <text x="1633" y="2216">**</text>
  <text x="1588" y="2262">*</text>
  <text x="1546" y="2307">*</text>
  <text x="2095" y="2343">**</text>
  <text x="2051" y="2390">*</text>
  <text x="2011" y="2435">*</text>
</g>
</svg>
</body>
</html>
